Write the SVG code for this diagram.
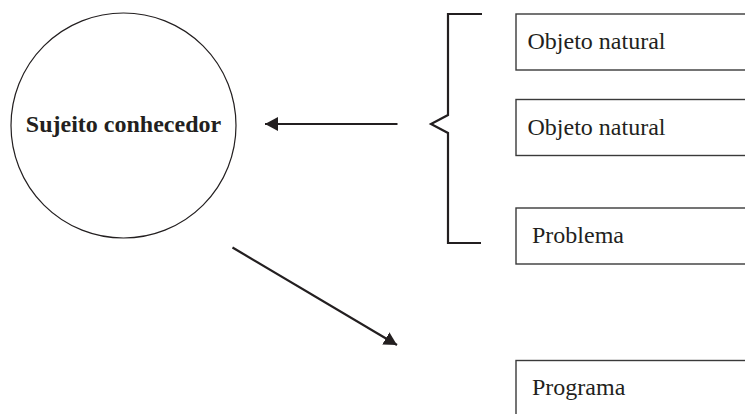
<svg xmlns="http://www.w3.org/2000/svg" width="745" height="414" viewBox="0 0 745 414">
<style>
.box{fill:#fff;stroke:#3a3a3a;stroke-width:1.4}
.lbl{font-family:"Liberation Serif","Times New Roman",serif;font-size:24px;fill:#231f20}
.conn{stroke:#231f20;stroke-width:2.2;fill:none}
</style>
<defs>
<marker id="ah" viewBox="0 0 13 14" refX="13" refY="7" markerWidth="13" markerHeight="14" markerUnits="userSpaceOnUse" orient="auto">
<path d="M0,0 L13,7 L0,14 Z" fill="#231f20"/>
</marker>
</defs>
<rect width="745" height="414" fill="#fff"/>
<g id="sujeito">
<circle cx="123.5" cy="125.5" r="112.5" fill="#fff" stroke="#231f20" stroke-width="1.2"/>
<text class="lbl" x="123.5" y="132" text-anchor="middle" font-weight="bold">Sujeito conhecedor</text>
</g>
<g id="objeto1">
<rect class="box" x="516" y="14" width="240" height="56"/>
<text class="lbl" x="527.5" y="49">Objeto natural</text>
</g>
<g id="objeto2">
<rect class="box" x="516" y="99.5" width="240" height="56"/>
<text class="lbl" x="527.5" y="135">Objeto natural</text>
</g>
<g id="problema">
<rect class="box" x="516" y="208" width="240" height="56"/>
<text class="lbl" x="532" y="243">Problema</text>
</g>
<g id="programa">
<rect class="box" x="516" y="360.5" width="240" height="70"/>
<text class="lbl" x="532" y="395">Programa</text>
</g>
<g id="connectors">
<path class="conn" d="M482,14 H448 V115 L431,124 L448,133 V243 H481"/>
<line class="conn" x1="397.5" y1="124" x2="265" y2="124" marker-end="url(#ah)"/>
<line class="conn" x1="232.5" y1="247.5" x2="397" y2="345" marker-end="url(#ah)"/>
</g>
</svg>
